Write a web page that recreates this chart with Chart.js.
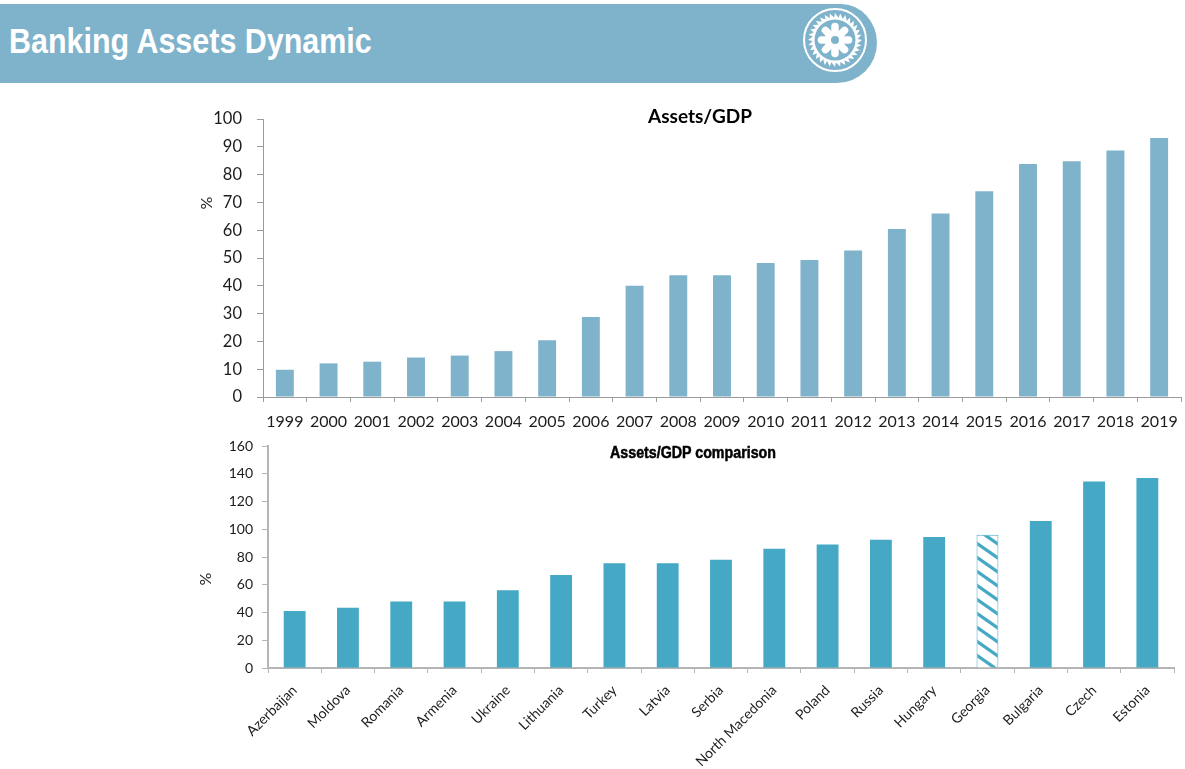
<!DOCTYPE html>
<html>
<head>
<meta charset="utf-8">
<title>Banking Assets Dynamic</title>
<script src="https://cdn.jsdelivr.net/npm/chart.js@4"></script>
<style>
  html, body { margin: 0; padding: 0; background: #fff; width: 1185px; height: 769px; overflow: hidden; }
  .band { position: absolute; left: 0; top: 4px; width: 877px; height: 79px; background: #7fb3cc; border-radius: 0 36px 40px 0 / 0 39px 40px 0; }
  .band h1 { position: absolute; left: 9px; top: 17px; margin: 0; color: #fff; font: bold 35px "Liberation Sans", Arial, sans-serif; line-height: 40px; white-space: nowrap; transform: scaleX(0.87); transform-origin: left center; }
  .band svg { position: absolute; left: 802px; top: 3px; }
  .box { position: absolute; left: 195px; width: 990px; }
  .title { position: absolute; color: #000; white-space: nowrap; transform: translate(-50%, -50%); }
  .narrow { transform: translate(-50%, -50%) scaleX(0.89); -webkit-text-stroke: 0.5px #000; }
  .unit { position: absolute; color: #222; font: 16px Lato, sans-serif; transform: translate(-50%, -50%) rotate(-90deg); }
</style>
</head>
<body>
<div class="band">
  <h1>Banking Assets Dynamic</h1>
  <svg id="gear" width="66" height="66" viewBox="-33 -33 66 66"></svg>
</div>

<div class="box" style="top:100px;height:335px"><canvas id="trend"></canvas></div>
<div class="box" style="top:430px;height:339px"><canvas id="comparison"></canvas></div>

<div class="title" style="left:700px;top:115px;font:bold 19px Lato, sans-serif">Assets/GDP</div>
<div class="title narrow" style="left:693px;top:453px;font:bold 16px 'Liberation Sans', sans-serif">Assets/GDP comparison</div>
<div class="unit" style="left:205px;top:203px">%</div>
<div class="unit" style="left:204px;top:579px">%</div>

<script>
const years = ['1999','2000','2001','2002','2003','2004','2005','2006','2007','2008','2009','2010','2011','2012','2013','2014','2015','2016','2017','2018','2019'];
const assetsToGdp = [9.8, 12.1, 12.7, 14.2, 14.9, 16.5, 20.4, 28.8, 40, 43.8, 43.8, 48.2, 49.3, 52.7, 60.4, 66, 74, 83.8, 84.8, 88.7, 93.2];

const countries = ['Azerbaijan','Moldova','Romania','Armenia','Ukraine','Lithuania','Turkey','Latvia','Serbia','North Macedonia','Poland','Russia','Hungary','Georgia','Bulgaria','Czech','Estonia'];
const countryAssets = [41, 43.5, 48, 48, 56, 67, 75.5, 75.5, 78, 86, 89, 92.5, 94.5, 96, 106, 134.5, 137];

const trendColor = '#7fb3cc';
const compareColor = '#45a9c6';
const textColor = '#1c1c1c';

// header badge
function drawGear() {
  const svg = document.getElementById('gear');
  let teeth = [];
  for (let i = 0; i < 32; i++) {
    const a = i * Math.PI / 16;
    const b = a + Math.PI / 20;
    teeth.push((27 * Math.cos(a)) + ',' + (27 * Math.sin(a)));
    teeth.push((22.5 * Math.cos(b)) + ',' + (22.5 * Math.sin(b)));
  }
  let s = '<circle r="31" fill="none" stroke="#fff" stroke-width="2"/>';
  s += '<polygon points="' + teeth.join(' ') + '" fill="#fff"/>';
  s += '<circle r="20.5" fill="#7fb3cc"/>';
  for (let i = 0; i < 8; i++) {
    const a = i * Math.PI / 4;
    s += '<line x1="0" y1="0" x2="' + 13.5 * Math.cos(a) + '" y2="' + 13.5 * Math.sin(a) + '" stroke="#fff" stroke-width="7.5" stroke-linecap="round"/>';
  }
  s += '<circle r="4" fill="#7fb3cc"/>';
  svg.innerHTML = s;
}
drawGear();

function hatch() {
  const c = document.createElement('canvas');
  c.width = 20;
  c.height = 14;
  const g = c.getContext('2d');
  g.fillStyle = '#fff';
  g.fillRect(0, 0, 20, 14);
  g.strokeStyle = compareColor;
  g.lineWidth = 3.2;
  for (let i = -20; i <= 20; i += 20) {
    g.beginPath();
    g.moveTo(i - 2, -1.4);
    g.lineTo(i + 22, 15.4);
    g.stroke();
  }
  return g.createPattern(c, 'repeat');
}

// afterFit pins the plot box, the padding resets stop tick labels from pushing it in
function axes(o) {
  return {
    x: {
      grid: { drawOnChartArea: false, color: o.axisColor, tickLength: 5 },
      border: { color: o.axisColor, width: o.axisWidth },
      ticks: { color: textColor, font: { family: 'Lato', size: o.xFont }, autoSkip: false, maxRotation: o.rotation, minRotation: o.rotation, padding: o.xPad },
      afterFit(scale) {
        scale.height = o.bottom;
        scale.paddingLeft = 0;
        scale.paddingRight = 0;
      }
    },
    y: {
      min: 0,
      max: o.max,
      grid: { drawOnChartArea: false, color: o.axisColor, tickLength: 6 },
      border: { color: o.axisColor, width: o.axisWidth },
      ticks: { color: textColor, font: { family: 'Lato', size: o.yFont }, stepSize: o.step, padding: o.yPad },
      afterFit(scale) {
        scale.width = o.left;
        scale.paddingTop = 0;
        scale.paddingBottom = 0;
      }
    }
  };
}

new Chart(document.getElementById('trend'), {
  type: 'bar',
  data: {
    labels: years,
    datasets: [{ label: 'Assets/GDP', data: assetsToGdp, backgroundColor: trendColor, categoryPercentage: 1, barPercentage: 0.41 }]
  },
  options: {
    responsive: true,
    maintainAspectRatio: false,
    animation: false,
    layout: { padding: { top: 19, right: 4 } },
    plugins: { legend: { display: false }, tooltip: { enabled: false } },
    scales: axes({ xFont: 16, yFont: 16.5, max: 100, step: 10, left: 68, bottom: 38, rotation: 0, xPad: 10, yPad: 15, axisColor: '#9a9a9a', axisWidth: 1 })
  }
});

new Chart(document.getElementById('comparison'), {
  type: 'bar',
  data: {
    labels: countries,
    datasets: [{
      label: 'Assets/GDP comparison',
      data: countryAssets,
      backgroundColor: countries.map(c => c === 'Georgia' ? hatch() : compareColor),
      borderColor: compareColor,
      borderWidth: countries.map(c => c === 'Georgia' ? 1 : 0),
      categoryPercentage: 1,
      barPercentage: 0.41
    }]
  },
  options: {
    responsive: true,
    maintainAspectRatio: false,
    animation: false,
    layout: { padding: { top: 16, right: 11 } },
    plugins: { legend: { display: false }, tooltip: { enabled: false } },
    scales: axes({ xFont: 14, yFont: 14, max: 160, step: 20, left: 73, bottom: 101, rotation: 45, xPad: 9, yPad: 9, axisColor: '#b5b5b5', axisWidth: 2 })
  }
});
</script>
</body>
</html>
